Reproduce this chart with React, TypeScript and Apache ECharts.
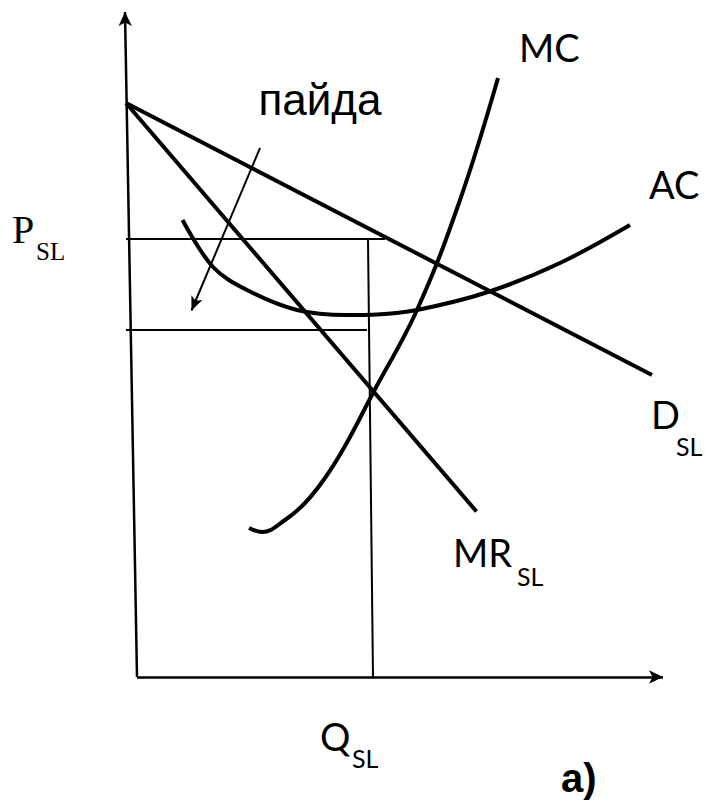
import React, { useEffect, useRef } from "react";
import * as echarts from "echarts";

// Units: Q (quantity) on x, P (price/cost) on y
const verticalAxisEnd: [number, number] = [-2.4, 133];
const horizontalAxisEnd: [number, number] = [105.2, 0];

const demandLine: [number, number][] = [
  [-2.2, 114.8],
  [103, 60.4],
];
const mrLine: [number, number][] = [
  [-2.2, 114.8],
  [67.9, 33.1],
];
const acCurve: [number, number][] = [
  [9.1, 91.4],
  [15.2, 82],
  [22, 77.4],
  [32, 73.4],
  [42, 72.4],
  [48, 72.5],
  [56, 73.4],
  [70.2, 77],
  [84.6, 82.8],
  [98.6, 90.4],
];
const mcCurve: [number, number][] = [
  [22.4, 29.8],
  [25, 29],
  [29.6, 31.4],
  [33.6, 34.8],
  [37.6, 39.8],
  [41.6, 46.2],
  [47.2, 56.8],
  [56, 73.4],
  [64.6, 95.4],
  [72.2, 119.8],
];
const priceLevel: [number, number][] = [
  [-2.2, 87.6],
  [49.6, 87.6],
];
const costLevel: [number, number][] = [
  [-2.2, 69.4],
  [46, 69.4],
];
const quantityLine: [number, number][] = [
  [46.2, 87.6],
  [47.2, 0],
];
const profitPointer: [number, number][] = [
  [24.6, 105.8],
  [10.9, 73.3],
];

const curveLabels = ["MC", "AC", "D", "MR", "Q"];
const subscript = "SL";
const priceLabel = "P";
const profitLabel = "пайда";
const panelLabel = "a)";

const SANS = "Lato, 'Noto Sans', sans-serif";

function lineSeries(data: [number, number][], width: number, smooth: number | boolean = false) {
  return {
    type: "line",
    data,
    smooth,
    showSymbol: false,
    symbol: "none",
    silent: true,
    clip: false,
    lineStyle: { color: "#000", width, cap: "butt" },
    z: 3,
  };
}

function txt(text: string, x: number, y: number, font: string, align = "left") {
  return {
    type: "text",
    x,
    y,
    silent: true,
    style: { text, font, fill: "#000", align, verticalAlign: "middle" },
  };
}

export default function App() {
  const ref = useRef<HTMLDivElement>(null);
  useEffect(() => {
    if (!ref.current) return;
    const chart = echarts.init(ref.current, null, { renderer: "svg" });
    const option: any = {
      animation: false,
      backgroundColor: "#fff",
      grid: { left: 117, top: 7, width: 580, height: 670 },
      xAxis: { type: "value", min: -4, max: 112, show: false },
      yAxis: { type: "value", min: 0, max: 134, show: false },
      series: [
        {
          type: "line",
          data: [],
          silent: true,
          markLine: {
            silent: true,
            symbol: ["none", "arrow"],
            symbolSize: [10, 14],
            label: { show: false },
            emphasis: { disabled: true },
            lineStyle: { color: "#000", width: 2.5, type: "solid" },
            data: [
              [{ coord: [0, 0] }, { coord: verticalAxisEnd }],
              [{ coord: [0, 0] }, { coord: horizontalAxisEnd }],
            ],
          },
        },
        {
          type: "line",
          data: [],
          silent: true,
          markLine: {
            silent: true,
            symbol: ["none", "arrow"],
            symbolSize: [9, 14],
            label: { show: false },
            emphasis: { disabled: true },
            lineStyle: { color: "#000", width: 2, type: "solid" },
            data: [[{ coord: profitPointer[0] }, { coord: profitPointer[1] }]],
          },
        },
        lineSeries(priceLevel, 2),
        lineSeries(costLevel, 2),
        lineSeries(quantityLine, 2),
        lineSeries(demandLine, 4),
        lineSeries(mrLine, 4),
        lineSeries(acCurve, 4, 0.35),
        lineSeries(mcCurve, 4, 0.4),
      ],
      graphic: [
        txt(profitLabel, 320, 99, `44px 'Liberation Sans', Arial, sans-serif`, "center"),
        txt(curveLabels[0], 519, 47, `38px ${SANS}`),
        txt(curveLabels[1], 649, 184, `38px ${SANS}`),
        txt(curveLabels[2], 651, 414, `38px ${SANS}`),
        txt(subscript, 676, 446, `25px ${SANS}`),
        txt(curveLabels[3], 453, 552, `38px ${SANS}`),
        txt(subscript, 517, 576, `25px ${SANS}`),
        txt(curveLabels[4], 320, 736, `38px ${SANS}`),
        txt(subscript, 352, 758, `25px ${SANS}`),
        txt(priceLabel, 12, 229, `40px 'Liberation Serif', 'Times New Roman', serif`),
        txt(subscript, 36, 251, `25px 'Liberation Serif', 'Times New Roman', serif`),
        txt(panelLabel, 561, 778, `bold 40px 'Liberation Sans', Arial, sans-serif`),
      ],
    };
    chart.setOption(option);
    return () => chart.dispose();
  }, []);
  return (
    <div
      ref={ref}
      style={{ position: "fixed", left: 0, top: 0, width: 712, height: 801, background: "#fff" }}
    />
  );
}
